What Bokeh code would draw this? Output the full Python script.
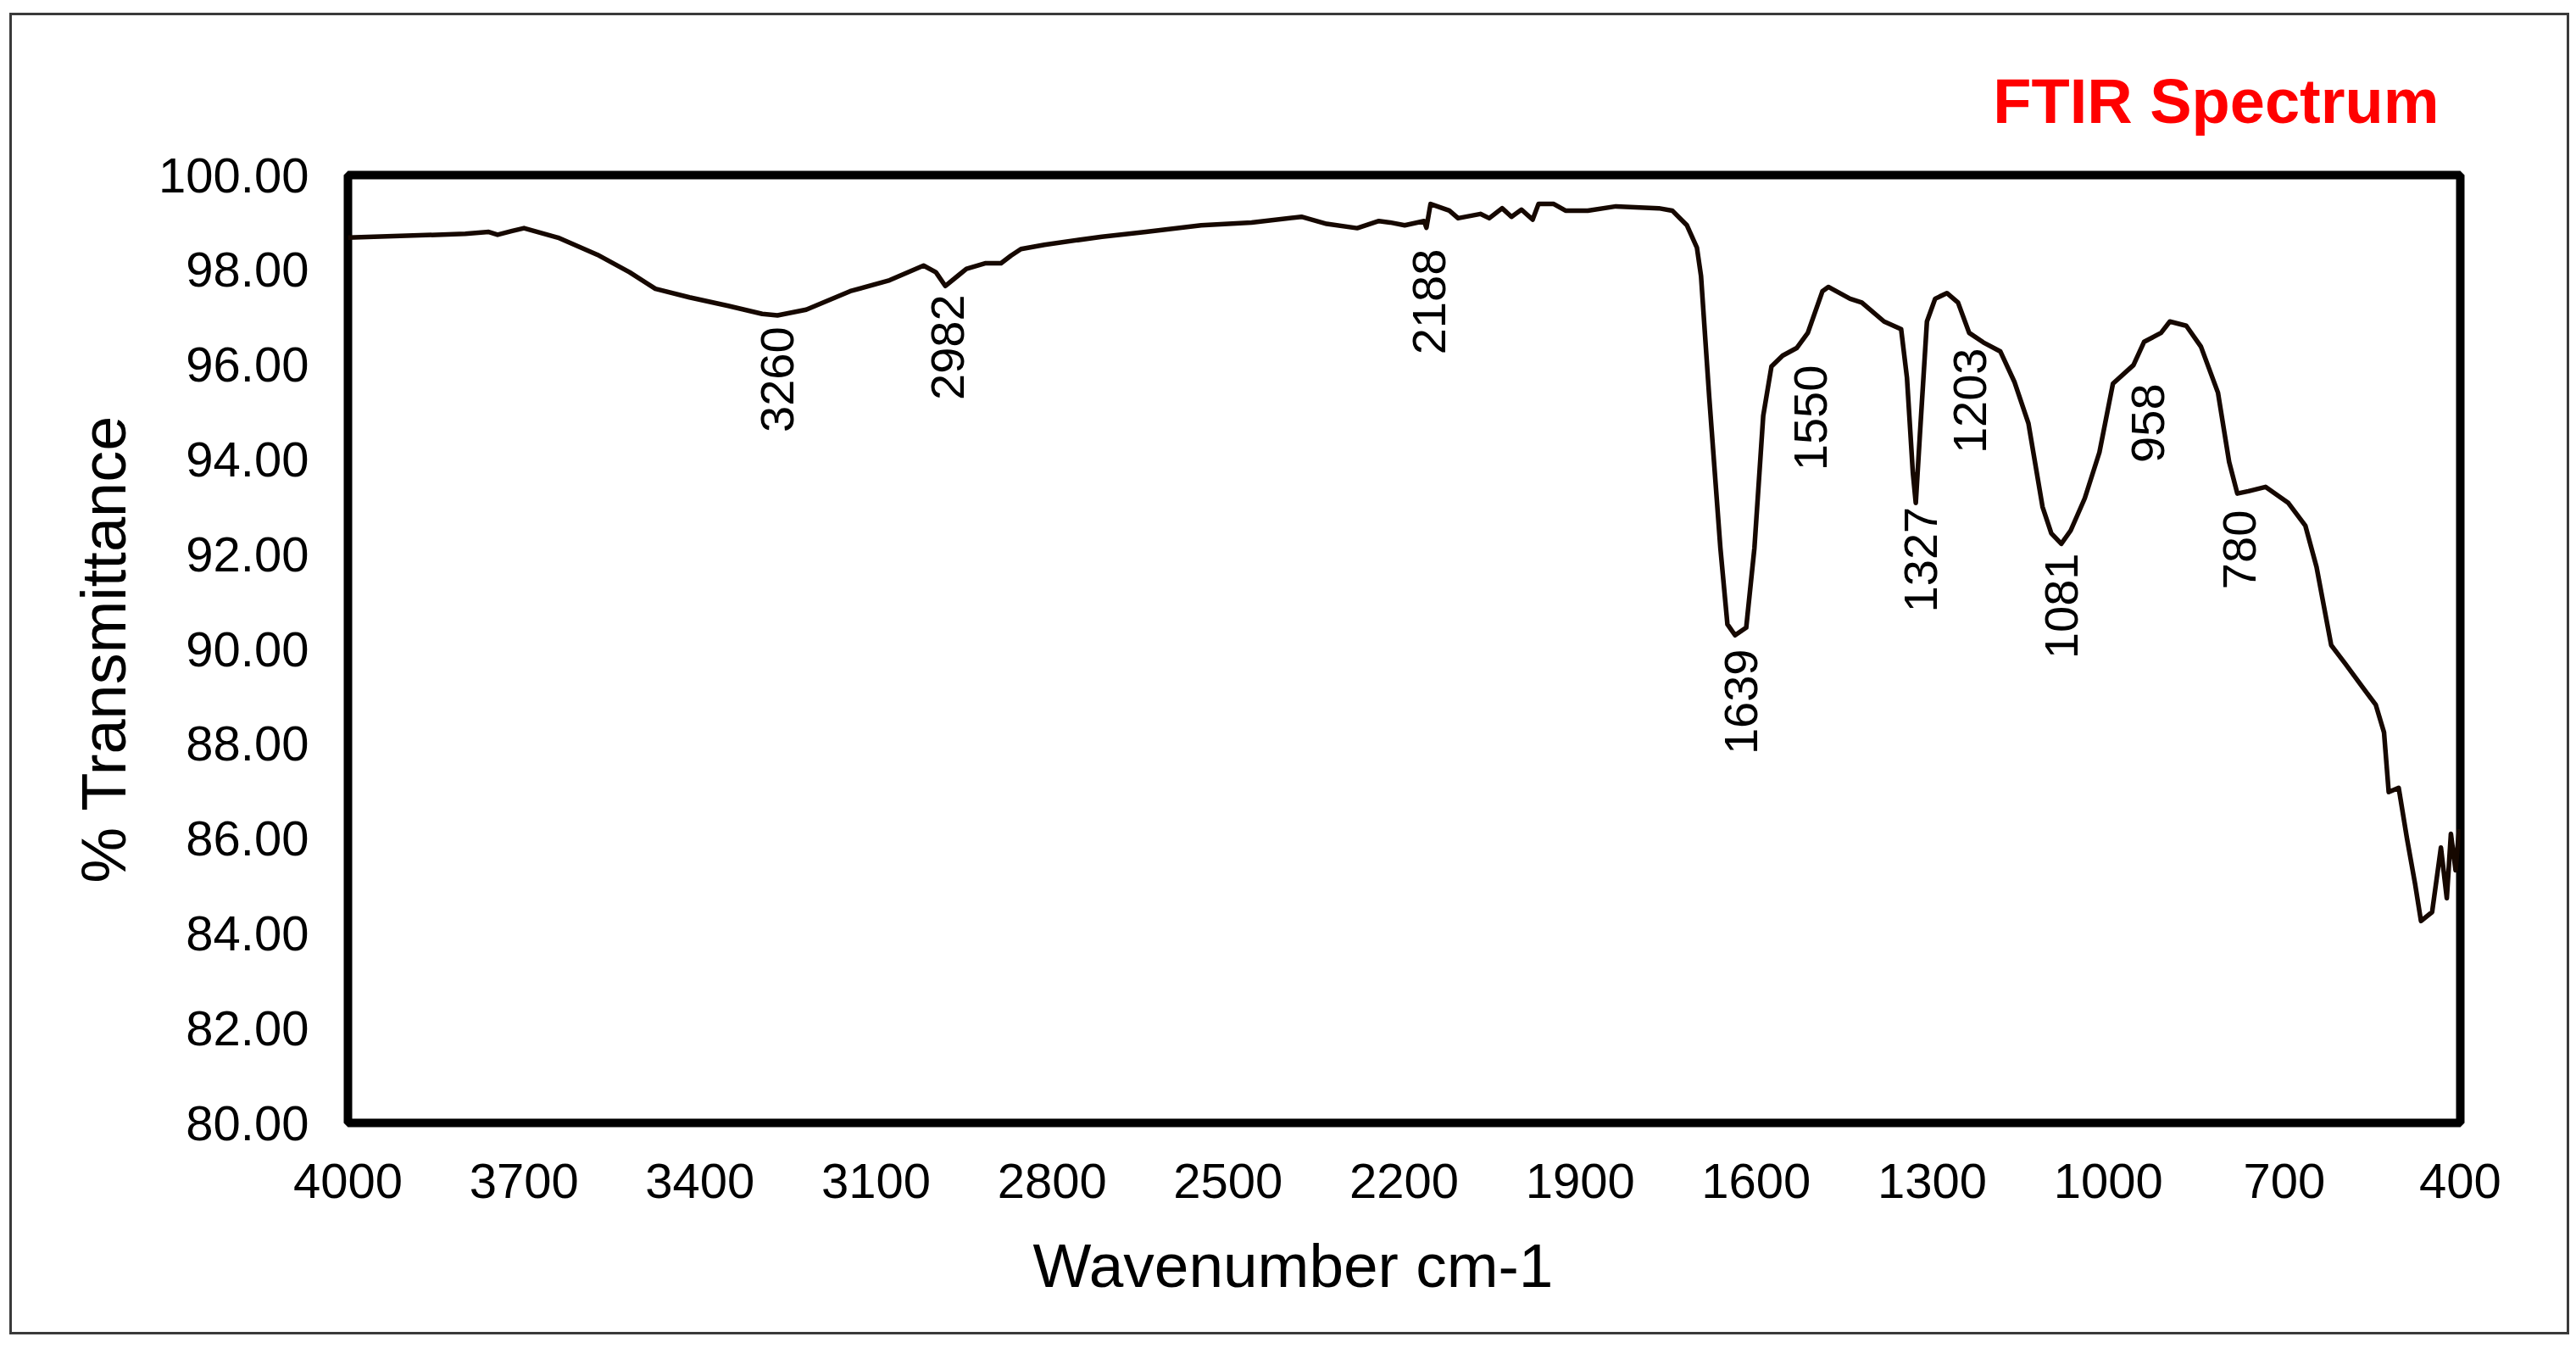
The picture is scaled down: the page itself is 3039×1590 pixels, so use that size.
import math
from bokeh.plotting import figure
from bokeh.models import Range1d, FixedTicker, NumeralTickFormatter, Title
from bokeh.core.properties import value
from bokeh.embed import file_html
from bokeh.resources import INLINE

# ---- data ----
wavenumber = [4000, 3900, 3800, 3760, 3745, 3720, 3700, 3642, 3575, 3520, 3476, 3418, 3352,
              3294, 3268, 3219, 3144, 3077, 3019, 2998, 2982, 2960, 2946, 2913, 2887, 2870,
              2853, 2813, 2715, 2640, 2546, 2460, 2375, 2332, 2280, 2243, 2224, 2199, 2166,
              2162, 2155, 2123, 2108, 2070, 2055, 2033, 2017, 2000, 1981, 1971, 1945, 1925,
              1887, 1839, 1766, 1743, 1718, 1701, 1694, 1680, 1661, 1649, 1636, 1617, 1603,
              1588, 1574, 1555, 1531, 1512, 1487, 1477, 1440, 1420, 1382, 1353, 1343, 1333,
              1328, 1321, 1309, 1295, 1275, 1256, 1237, 1213, 1184, 1160, 1136, 1112, 1097,
              1080, 1064, 1040, 1015, 992, 957, 939, 910, 895, 867, 842, 813, 794, 780, 761,
              732, 693, 664, 645, 620, 596, 567, 544, 530, 522, 505, 491, 477, 467, 448, 433,
              423, 416, 408, 402]
transmittance = [98.68, 98.72, 98.76, 98.80, 98.74, 98.82, 98.88, 98.68, 98.32, 97.95, 97.60,
                 97.42, 97.24, 97.07, 97.04, 97.16, 97.55, 97.78, 98.09, 97.95, 97.66, 97.88,
                 98.02, 98.14, 98.14, 98.30, 98.44, 98.53, 98.70, 98.80, 98.94, 99.00, 99.12,
                 98.97, 98.88, 99.03, 99.00, 98.94, 99.03, 98.89, 99.39, 99.25, 99.09, 99.18,
                 99.09, 99.30, 99.12, 99.27, 99.06, 99.39, 99.39, 99.25, 99.25, 99.34, 99.30,
                 99.25, 98.94, 98.47, 97.87, 95.31, 92.13, 90.52, 90.29, 90.45, 92.13, 94.92,
                 95.96, 96.19, 96.35, 96.67, 97.55, 97.64, 97.39, 97.31, 96.91, 96.75, 95.72,
                 93.72, 93.08, 94.52, 96.91, 97.39, 97.51, 97.31, 96.67, 96.47, 96.28, 95.64,
                 94.76, 93.00, 92.44, 92.22, 92.50, 93.18, 94.15, 95.60, 95.99, 96.48, 96.67,
                 96.91, 96.82, 96.38, 95.41, 93.95, 93.28, 93.33, 93.42, 93.08, 92.60, 91.73,
                 90.08, 89.69, 89.20, 88.82, 88.24, 86.98, 87.07, 86.01, 85.04, 84.26, 84.45,
                 85.81, 84.74, 86.10, 85.33, 86.20]

peak_labels = ["3260", "2982", "2188", "1639", "1550", "1327", "1203", "1081", "958", "780"]
peak_label_x = [3268, 2978, 2157, 1626, 1507, 1320, 1235, 1080, 933, 777]
peak_label_y = [96.80, 97.48, 98.44, 90.00, 95.99, 93.00, 96.35, 92.02, 95.60, 92.93]

x_ticks = [4000, 3700, 3400, 3100, 2800, 2500, 2200, 1900, 1600, 1300, 1000, 700, 400]
y_ticks = [80, 82, 84, 86, 88, 90, 92, 94, 96, 98, 100]

FONT = "Liberation Sans"

p = figure(width=3020, height=1559, output_backend="svg", toolbar_location=None,
           x_range=Range1d(4000, 400), y_range=Range1d(80, 100),
           min_border_left=396, min_border_right=132, min_border_top=188,
           min_border_bottom=253)
p.styles = {"border": "3px solid #3a3a3a", "margin-left": "11px", "margin-top": "15px"}

p.line(wavenumber, transmittance, line_color="#160800", line_width=5.5, line_join="round")

p.text(x=peak_label_x, y=peak_label_y, text=peak_labels, angle=math.pi / 2,
       text_align="right", text_baseline="middle", text_font=value(FONT),
       text_font_size="56px", text_color="black")

p.grid.visible = False
p.outline_line_color = "black"
p.outline_line_width = 10

for ax in (p.xaxis[0], p.yaxis[0]):
    ax.axis_line_color = None
    ax.major_tick_line_color = None
    ax.minor_tick_line_color = None
    ax.major_tick_out = 0
    ax.major_tick_in = 0
    ax.major_label_text_font = FONT
    ax.major_label_text_font_size = "58px"
    ax.major_label_text_color = "black"
    ax.axis_label_text_font = FONT
    ax.axis_label_text_font_style = "normal"
    ax.axis_label_text_color = "black"

p.xaxis.ticker = FixedTicker(ticks=x_ticks)
p.yaxis.ticker = FixedTicker(ticks=y_ticks)
p.yaxis.formatter = NumeralTickFormatter(format="0.00")
p.yaxis.axis_label = "% Transmittance"
p.yaxis.axis_label_text_font_size = "74px"
p.yaxis.major_label_standoff = 46
p.xaxis.major_label_standoff = 48
p.yaxis.axis_label_standoff = 20

p.add_layout(Title(text="Wavenumber cm-1", align="left", offset=808, standoff=69,
                   text_font=FONT, text_font_style="normal", text_font_size="73px",
                   text_color="black"), "below")

p.title.text = "FTIR Spectrum"
p.title.align = "right"
p.title.text_color = "#ff0000"
p.title.text_font = FONT
p.title.text_font_style = "bold"
p.title.text_font_size = "74px"
p.title.standoff = 91
p.title.offset = 25

open("out.html", "w").write(file_html(p, INLINE))
